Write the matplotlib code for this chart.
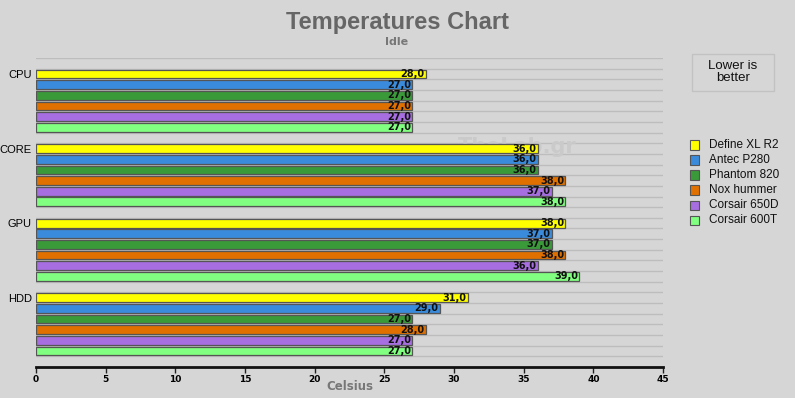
import matplotlib
matplotlib.use("Agg")
import matplotlib.pyplot as plt
from matplotlib.patches import Rectangle

# donnees
categories = ["CPU", "CORE", "GPU", "HDD"]
boitiers = ["Define XL R2", "Antec P280", "Phantom 820", "Nox hummer", "Corsair 650D", "Corsair 600T"]
couleurs = ["#ffff00", "#3a8bdb", "#3a9a3a", "#e07000", "#a66ee0", "#80ff80"]
temperatures = {
    "Define XL R2": [28, 36, 38, 31],
    "Antec P280": [27, 36, 37, 29],
    "Phantom 820": [27, 36, 37, 27],
    "Nox hummer": [27, 38, 38, 28],
    "Corsair 650D": [27, 37, 36, 27],
    "Corsair 600T": [27, 38, 39, 27],
}
xticks = [0, 5, 10, 15, 20, 25, 30, 35, 40, 45]

fond = "#d6d6d6"
W, H = 795, 398
fig = plt.figure(figsize=(W / 100, H / 100), dpi=100, facecolor=fond)
ax = fig.add_axes([36 / W, 1 - 367 / H, (663 - 36) / W, (367 - 58) / H])
ax.set_facecolor(fond)

nb = len(boitiers)
pas = nb + 1
nslots = pas * len(categories) + 1

# lignes horizontales a chaque emplacement
for s in range(nslots):
    ax.axhline(s, color="#bdbdbd", lw=1, zorder=1)

# filigrane derriere les barres
ax.text(517 / W, 1 - 147 / H, "TheLab.gr", transform=fig.transFigure, ha="center", va="center",
        fontsize=15, fontweight="bold", color="#cacaca", family="DejaVu Sans", zorder=2)

for j, b in enumerate(boitiers):
    for i, cat in enumerate(categories):
        y = 1 + pas * i + j + 0.5
        v = temperatures[b][i]
        ax.barh(y, v, height=0.82, color=couleurs[j], edgecolor="#555555", lw=0.9, zorder=3)
        ax.text(v - 0.1, y, ("%.1f" % v).replace(".", ","), ha="right", va="center",
                fontsize=7, fontweight="bold", color="#111111", family="DejaVu Sans", zorder=4)

ax.set_xlim(0, 45)
ax.set_ylim(nslots, 0)
ax.set_yticks([1 + pas * i + 0.5 for i in range(len(categories))])
ax.set_yticklabels(categories, fontsize=8, family="Liberation Sans")
ax.tick_params(axis="y", length=0, pad=3)
ax.set_xticks(xticks)
ax.set_xticklabels([str(x) for x in xticks], fontsize=6.5, fontweight="bold", family="DejaVu Sans")
ax.tick_params(axis="x", length=4, width=1, color="#222222", pad=2)
for side in ["left", "right", "top"]:
    ax.spines[side].set_visible(False)
ax.spines["bottom"].set_linewidth(2)
ax.spines["bottom"].set_color("#111111")
ax.spines["bottom"].set_zorder(5)

fig.text(350 / W, 1 - 387 / H, "Celsius", ha="center", va="center", fontsize=8.5,
         fontweight="bold", color="#777777", family="DejaVu Sans")

# titre
fig.text(397 / W, 1 - 22 / H, "Temperatures Chart", ha="center", va="center", fontsize=17,
         fontweight="bold", color="#666666", family="Liberation Sans")
fig.text(397 / W, 1 - 42 / H, "Idle", ha="center", va="center", fontsize=8,
         fontweight="bold", color="#777777", family="DejaVu Sans")

# encadre
fig.patches.append(Rectangle((692 / W, 1 - 91 / H), 82 / W, 37 / H, transform=fig.transFigure,
                             facecolor=fond, edgecolor="#c2c2c2", lw=1))
fig.text(733 / W, 1 - 72 / H, "Lower is\nbetter", ha="center", va="center", fontsize=9.5,
         family="Liberation Sans", color="#111111", linespacing=1.0)

# legende
for j, b in enumerate(boitiers):
    y = 145 + 15 * j
    fig.patches.append(Rectangle((690 / W, 1 - (y + 4.5) / H), 9 / W, 9 / H, transform=fig.transFigure,
                                 facecolor=couleurs[j], edgecolor="#555555", lw=0.8))
    fig.text(709 / W, 1 - y / H, b, ha="left", va="center", fontsize=8.5,
             family="Liberation Sans", color="#111111")

fig.savefig("out.png", dpi=100, facecolor=fond)
